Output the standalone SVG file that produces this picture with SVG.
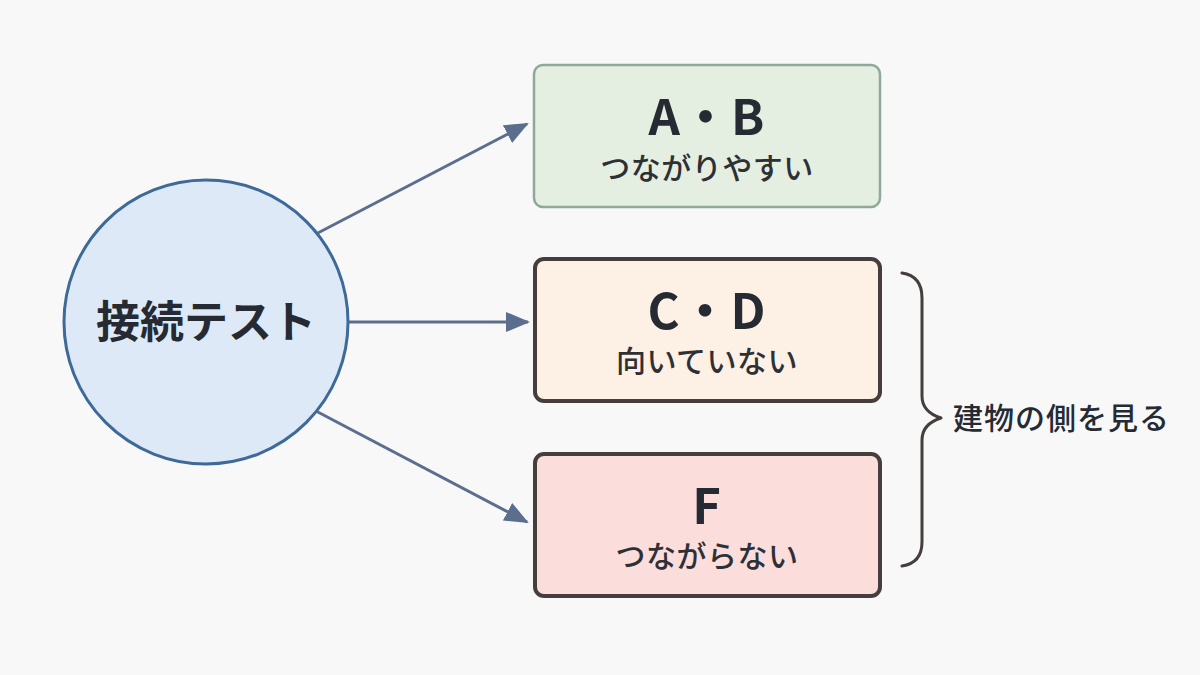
<svg xmlns="http://www.w3.org/2000/svg" width="1200" height="675" viewBox="0 0 1200 675">
  <defs>
    <style>
      .jp { font-family: "Noto Sans CJK JP", "Noto Sans", sans-serif; fill: #252a33; }
      .title { font-size: 49px; font-weight: 700; text-anchor: middle; letter-spacing: 1px; }
      .sub { font-size: 30px; font-weight: 500; text-anchor: middle; fill: #2e3036; letter-spacing: 0.5px; }
      .conn { stroke: #5b6e8e; stroke-width: 3; fill: none; }
    </style>
    <marker id="head" viewBox="0 0 24 24" refX="22" refY="12" markerWidth="24" markerHeight="24" markerUnits="userSpaceOnUse" orient="auto">
      <path d="M0,2 L24,12 L0,22 z" fill="#5b6e8e"/>
    </marker>
  </defs>
  <rect width="1200" height="675" fill="#f8f8f8"/>

  <g id="connectors">
    <line class="conn" x1="314" y1="235" x2="527" y2="124" marker-end="url(#head)"/>
    <line class="conn" x1="349" y1="322" x2="528" y2="322" marker-end="url(#head)"/>
    <line class="conn" x1="314" y1="410" x2="527" y2="522" marker-end="url(#head)"/>
  </g>

  <g id="node-test">
    <circle cx="206" cy="322" r="142" fill="#dde9f6" stroke="#3d6a98" stroke-width="3"/>
    <text class="jp" x="206" y="338" font-size="44" font-weight="700" text-anchor="middle">接続テスト</text>
  </g>

  <g id="node-ab">
    <rect x="534" y="65" width="346" height="142" rx="9" fill="#e4efe2" stroke="#8ea89a" stroke-width="2.5"/>
    <text class="jp title" x="707" y="135">A・B</text>
    <text class="jp sub" x="707" y="179">つながりやすい</text>
  </g>

  <g id="node-cd">
    <rect x="535" y="259" width="345" height="142" rx="9" fill="#fdf0e5" stroke="#453e3c" stroke-width="4"/>
    <text class="jp title" x="707" y="329">C・D</text>
    <text class="jp sub" x="707" y="372">向いていない</text>
  </g>

  <g id="node-f">
    <rect x="535" y="454" width="345" height="142" rx="9" fill="#fbdddc" stroke="#453e3c" stroke-width="4"/>
    <text class="jp title" x="707" y="524">F</text>
    <text class="jp sub" x="707" y="567">つながらない</text>
  </g>

  <g id="brace">
    <path d="M902,273 Q922,276 922,298 L922,396 Q922,412 941,418 Q922,424 922,440 L922,542 Q922,563 902,566" fill="none" stroke="#453e3c" stroke-width="3" stroke-linecap="round" stroke-linejoin="round"/>
    <text class="jp" x="953" y="429" font-size="30" font-weight="500" fill="#3a3636" letter-spacing="1">建物の側を見る</text>
  </g>
</svg>
